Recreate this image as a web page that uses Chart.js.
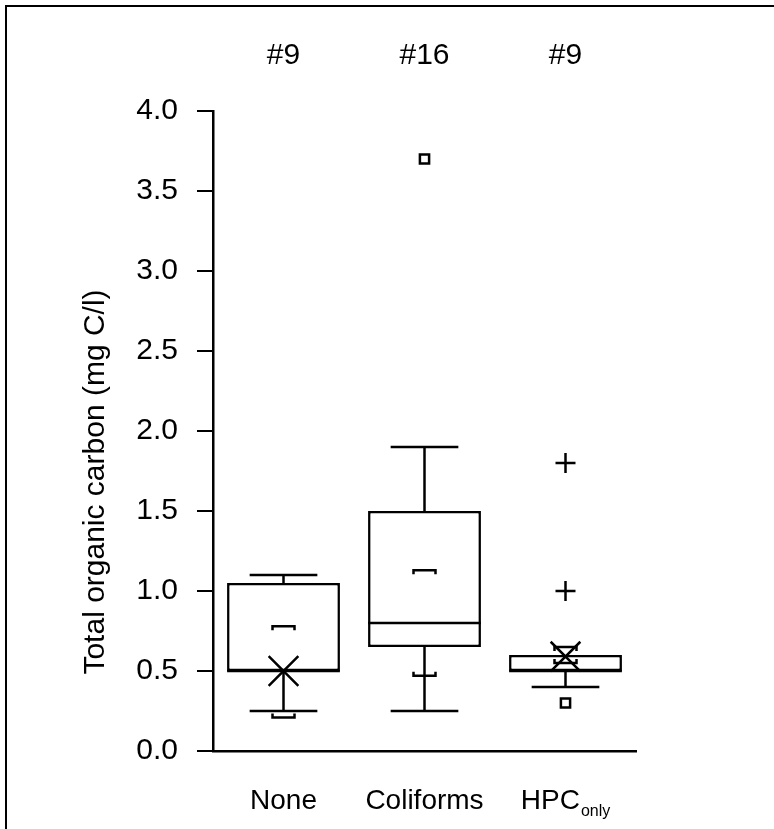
<!DOCTYPE html>
<html>
<head>
<meta charset="utf-8">
<script src="https://cdn.jsdelivr.net/npm/chart.js@4.4.1/dist/chart.umd.min.js"></script>
<style>
  html, body { margin: 0; padding: 0; background: #fff; }
  #wrap { width: 774px; height: 829px; position: relative; }
</style>
</head>
<body>
<div id="wrap"><canvas id="chart"></canvas></div>
<script>
// groups and their sample counts
const categories = ['None', 'Coliforms', 'HPC'];
const subscripts = ['', '', 'only'];
const counts = ['#9', '#16', '#9'];

// box statistics (mg C/l)
const q1 = [0.5, 0.65, 0.5];
const q3 = [1.05, 1.5, 0.6];
const medians = [0.5, 0.8, 0.5];
const whiskerLow = [0.25, 0.25, 0.4];
const whiskerHigh = [1.1, 1.9, 0.6];
const upperMarks = [0.78, 1.13, 0.65];
const lowerMarks = [0.21, 0.47, 0.55];
const means = [0.5, null, 0.59];

// single points
const squareCats = ['Coliforms', 'HPC'];
const squareVals = [3.7, 0.3];
const plusCats = ['HPC', 'HPC'];
const plusVals = [1.0, 1.8];

const FONT = "'Liberation Sans', Arial, Helvetica, sans-serif";
const LW = 2.5;

const boxExtras = {
  id: 'boxExtras',
  afterDatasetsDraw(chart) {
    const {ctx, scales: {x, y}} = chart;
    const bars = chart.getDatasetMeta(0).data;
    const seg = (x1, y1, x2, y2) => {
      ctx.beginPath(); ctx.moveTo(x1, y1); ctx.lineTo(x2, y2); ctx.stroke();
    };
    ctx.save();
    ctx.strokeStyle = '#000';
    ctx.lineWidth = LW;
    categories.forEach((c, i) => {
      const cx = x.getPixelForValue(i);
      const half = bars[i].width / 2;
      const cap = half * 0.6;
      // whiskers + caps
      const yHi = y.getPixelForValue(whiskerHigh[i]);
      const yLo = y.getPixelForValue(whiskerLow[i]);
      if (whiskerHigh[i] > q3[i]) {
        seg(cx, y.getPixelForValue(q3[i]), cx, yHi);
        seg(cx - cap, yHi, cx + cap, yHi);
      }
      if (whiskerLow[i] < q1[i]) {
        seg(cx, y.getPixelForValue(q1[i]), cx, yLo);
        seg(cx - cap, yLo, cx + cap, yLo);
      }
      // median
      const ym = y.getPixelForValue(medians[i]);
      seg(cx - half, ym, cx + half, ym);
      // bracket marks
      const bw = 11, bt = 4;
      const yu = y.getPixelForValue(upperMarks[i]);
      ctx.beginPath();
      ctx.moveTo(cx - bw, yu + bt); ctx.lineTo(cx - bw, yu);
      ctx.lineTo(cx + bw, yu); ctx.lineTo(cx + bw, yu + bt);
      ctx.stroke();
      const yl = y.getPixelForValue(lowerMarks[i]);
      ctx.beginPath();
      ctx.moveTo(cx - bw, yl - bt); ctx.lineTo(cx - bw, yl);
      ctx.lineTo(cx + bw, yl); ctx.lineTo(cx + bw, yl - bt);
      ctx.stroke();
    });
    ctx.restore();
  },
  afterDraw(chart) {
    const {ctx, scales: {x}} = chart;
    ctx.save();
    ctx.fillStyle = '#000';
    // frame lines
    ctx.fillRect(5, 5, 2, 829);
    ctx.fillRect(5, 5, 774, 2);
    // counts above
    ctx.font = '30px ' + FONT;
    ctx.textAlign = 'center';
    ctx.textBaseline = 'middle';
    counts.forEach((t, i) => ctx.fillText(t, x.getPixelForValue(i), 56));
    // category labels (with subscript)
    ctx.textAlign = 'left';
    ctx.textBaseline = 'alphabetic';
    categories.forEach((t, i) => {
      ctx.font = '28px ' + FONT;
      const w1 = ctx.measureText(t).width;
      ctx.font = '16px ' + FONT;
      const w2 = subscripts[i] ? ctx.measureText(subscripts[i]).width + 1 : 0;
      const left = x.getPixelForValue(i) - (w1 + w2) / 2;
      ctx.font = '28px ' + FONT;
      ctx.fillText(t, left, 809);
      if (subscripts[i]) {
        ctx.font = '16px ' + FONT;
        ctx.fillText(subscripts[i], left + w1 + 1, 816);
      }
    });
    // y axis title
    ctx.translate(96, 482);
    ctx.rotate(-Math.PI / 2);
    ctx.font = '30px ' + FONT;
    ctx.textAlign = 'center';
    ctx.textBaseline = 'middle';
    ctx.fillText('Total organic carbon (mg C/l)', 0, 0);
    ctx.restore();
  }
};

const pointDefaults = {
  type: 'line',
  showLine: false,
  order: 0,
  borderColor: '#000',
  pointBorderColor: '#000',
  pointBorderWidth: LW,
  pointHoverRadius: 0,
};

new Chart(document.getElementById('chart'), {
  type: 'bar',
  data: {
    labels: categories,
    datasets: [
      {
        data: categories.map((c, i) => [q1[i], q3[i]]),
        order: 10,
        backgroundColor: '#fff',
        borderColor: '#000',
        borderWidth: LW,
        borderSkipped: false,
        barPercentage: 0.8,
        categoryPercentage: 1.0,
      },
      Object.assign({}, pointDefaults, {
        data: squareCats.map((c, i) => ({x: c, y: squareVals[i]})),
        pointStyle: 'rect',
        pointRadius: 6.5,
        pointBackgroundColor: '#fff',
      }),
      Object.assign({}, pointDefaults, {
        data: plusCats.map((c, i) => ({x: c, y: plusVals[i]})),
        pointStyle: 'cross',
        pointRadius: 10,
      }),
      Object.assign({}, pointDefaults, {
        data: categories.map((c, i) => ({x: c, y: means[i]})),
        pointStyle: 'crossRot',
        pointRadius: 21,
      }),
    ]
  },
  options: {
    responsive: true,
    maintainAspectRatio: false,
    animation: false,
    events: [],
    layout: { padding: { top: 111, right: 138, bottom: 78, left: 0 } },
    plugins: { legend: { display: false }, tooltip: { enabled: false } },
    scales: {
      x: {
        grid: { display: false },
        ticks: { display: false },
        border: { color: '#000', width: LW },
        afterFit: (s) => { s.height = 0; },
      },
      y: {
        min: 0,
        max: 4,
        ticks: {
          stepSize: 0.5,
          padding: 19,
          color: '#000',
          font: { family: FONT, size: 30 },
          callback: (v) => v.toFixed(1),
        },
        grid: { drawOnChartArea: false, drawTicks: true, tickLength: 16, color: '#000', lineWidth: 2 },
        border: { color: '#000', width: LW },
        afterFit: (s) => { s.width = 213; },
      }
    }
  },
  plugins: [boxExtras]
});
</script>
</body>
</html>
